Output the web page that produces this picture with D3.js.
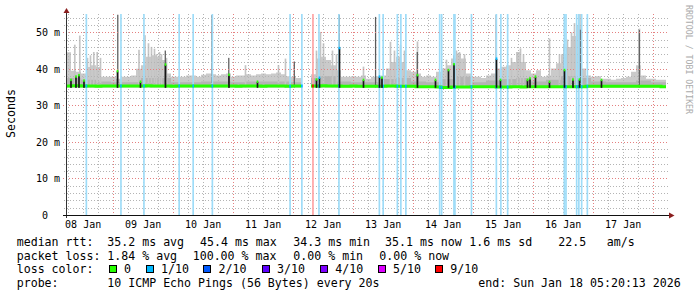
<!DOCTYPE html>
<html>
<head>
<meta charset="utf-8">
<script src="https://cdn.jsdelivr.net/npm/d3@7"></script>
<style>
body { margin: 0; background: #fff; }
svg { display: block; }
text { font-family: "DejaVu Sans Mono", monospace; }
</style>
</head>
<body>
<div id="chart"></div>
<script>
// 2 hour bins from the graph start, ms
var smokeMax = [
  44.5, 39.5, 39.2, 38.7, 40.5, 41.0, 40.5, 37.8, 37.8, 37.8, 37.3, 37.8,
  37.8, 38.2, 40.0, 41.0, 43.3, 43.7, 43.3, 42.4, 38.7, 37.8, 37.8, 37.8,
  38.2, 38.2, 37.8, 38.4, 38.7, 38.5, 38.2, 38.5, 38.7, 37.8, 38.2, 38.2,
  38.5, 38.2, 38.5, 38.7, 38.5, 38.7, 39.0, 38.5, 38.0, 37.8, 37.5, null,
  null, 38.5, 42.8, 43.3, 42.4, 41.0, 39.6, 37.8, 37.8, 38.0, 37.8, 38.2,
  37.3, 37.8, 38.0, 38.2, 40.1, 41.9, 43.3, 41.9, 39.6, 39.2, 38.7, 37.8,
  38.2, 37.8, 39.2, 40.1, 41.0, 42.8, 44.2, 42.8, 38.7, 37.8, 37.8, 37.5,
  38.2, 38.7, 40.1, 40.6, 41.0, 41.9, 44.6, 41.9, 39.6, 38.7, 39.6, 37.8,
  38.2, 40.1, 41.5, 44.0, 46.0, 49.0, 52.0, 40.1, 38.2, 37.8, 38.0, 37.3,
  37.3, 37.0, 37.3, 37.5, 37.8, 39.2, 41.0, 38.2, 37.3, 37.3, 37.0, 37.0
];
var median = [
  35.3, 35.4, 35.4, 35.3, 35.3, 35.3, 35.2, 35.3, 35.3, 35.3, 35.3, 35.3,
  35.3, 35.3, 35.3, 35.3, 35.4, 35.3, 35.3, 35.3, 35.3, 35.2, 35.3, 35.3,
  35.3, 35.3, 35.3, 35.3, 35.3, 35.3, 35.3, 35.3, 35.3, 35.3, 35.2, 35.3,
  35.3, 35.3, 35.3, 35.2, 35.3, 35.3, 35.3, 35.3, 35.2, 35.3, 35.3, null,
  null, 35.3, 35.3, 35.4, 35.3, 35.3, 35.3, 35.2, 35.2, 35.3, 35.2, 35.2,
  35.2, 35.2, 35.2, 35.2, 35.3, 35.3, 35.2, 35.2, 35.2, 35.2, 35.1, 35.1,
  35.1, 35.1, 35.0, 34.9, 34.9, 35.0, 35.0, 35.0, 35.0, 35.1, 35.1, 35.1,
  35.1, 35.1, 35.0, 35.0, 35.0, 35.1, 35.1, 35.0, 35.1, 35.1, 35.1, 35.1,
  35.1, 35.1, 35.1, 35.1, 35.1, 35.1, 35.1, 35.1, 35.2, 35.2, 35.2, 35.2,
  35.2, 35.2, 35.2, 35.2, 35.2, 35.2, 35.2, 35.2, 35.2, 35.2, 35.2, 35.1
];
// 6 hour bins, darker smoke
var smokeMid = [
  37.5, 37.0, 36.5, 36.3, 36.3, 37.5, 37.5, 36.3, 36.3, 36.5,
  36.5, 36.3, 36.5, 36.5, 36.5, 36.3, 37.5, 38.0, 36.5, 36.3,
  36.3, 37.2, 37.5, 36.5, 36.3, 37.2, 37.8, 36.3, 36.8, 37.2,
  37.5, 36.5, 37.0, 38.0, 37.5, 36.5, 36.3, 36.3, 36.8, 36.3
];
// thin light smoke spikes [time, top ms]
var lightSpikes = [
  ["01-08 08:31", 46.6], ["01-08 10:31", 49.1], ["01-08 13:36", 43.0], ["01-08 14:48", 43.7],
  ["01-08 16:07", 44.6], ["01-08 17:29", 44.6], ["01-08 18:48", 43.0], ["01-09 10:12", 45.2],
  ["01-09 12:36", 49.2], ["01-09 14:00", 47.0], ["01-09 15:12", 46.0], ["01-09 16:24", 45.5],
  ["01-09 17:12", 44.0], ["01-09 18:24", 44.6], ["01-09 19:12", 44.0], ["01-09 21:12", 43.0],
  ["01-11 04:48", 41.0], ["01-11 18:00", 41.0], ["01-11 20:48", 42.8], ["01-12 09:12", 45.0],
  ["01-12 10:48", 50.1], ["01-12 12:00", 47.0], ["01-12 15:36", 45.0], ["01-12 17:12", 44.0],
  ["01-13 04:00", 40.6], ["01-13 14:48", 47.4], ["01-13 16:24", 45.0], ["01-13 18:48", 46.5],
  ["01-13 20:24", 45.0], ["01-14 01:36", 47.5], ["01-14 13:12", 42.5], ["01-14 17:12", 45.0],
  ["01-14 18:24", 44.6], ["01-14 20:24", 44.0], ["01-15 15:12", 43.0], ["01-15 17:36", 44.6],
  ["01-15 18:48", 45.6], ["01-15 20:00", 44.0], ["01-16 06:24", 48.3], ["01-16 10:24", 44.0],
  ["01-16 13:36", 48.0], ["01-16 15:12", 50.0], ["01-16 16:24", 52.5], ["01-16 18:36", 55.0],
  ["01-17 18:24", 51.0]
];
// dark smoke lines [time, top ms]
var darkSpikes = [
  ["01-09 01:48", 54.8], ["01-09 20:48", 45.0], ["01-10 15:29", 54.7], ["01-10 22:12", 43.0],
  ["01-12 00:24", 42.0], ["01-12 18:24", 54.8], ["01-13 08:55", 54.2], ["01-14 01:36", 44.6],
  ["01-14 16:12", 43.7], ["01-15 09:12", 54.8], ["01-16 12:24", 46.5], ["01-16 18:48", 50.7],
  ["01-17 18:24", 50.6]
];
// median jumps [time, median ms, loss level]
var medianJumps = [
  ["01-08 07:00", 36.9, 0], ["01-08 09:00", 37.8, 0], ["01-08 10:12", 38.2, 0], ["01-08 12:12", 36.7, 0],
  ["01-09 01:36", 39.3, 0], ["01-09 10:48", 36.4, 0], ["01-09 20:48", 41.1, 0], ["01-10 22:12", 38.3, 0],
  ["01-11 09:36", 36.4, 0], ["01-12 09:12", 37.0, 0], ["01-12 10:24", 37.5, 1], ["01-12 18:24", 45.6, 1],
  ["01-13 04:00", 36.9, 0], ["01-13 10:24", 37.8, 1], ["01-13 11:24", 37.5, 0], ["01-14 01:36", 38.2, 0],
  ["01-14 08:48", 36.9, 0], ["01-14 14:00", 39.6, 0], ["01-14 16:12", 41.2, 0], ["01-15 09:12", 42.7, 1],
  ["01-15 10:48", 36.9, 0], ["01-15 21:36", 36.9, 0], ["01-15 22:36", 37.3, 0], ["01-16 00:48", 37.8, 0],
  ["01-16 06:24", 36.4, 0], ["01-16 12:24", 39.6, 0], ["01-16 15:48", 37.0, 0], ["01-16 18:24", 37.0, 0],
  ["01-17 03:12", 36.9, 0]
];
// loss events [time, lost pings out of 10]
var lossEvents = [
  ["01-08 13:29", 1], ["01-09 03:19", 1], ["01-09 12:31", 1], ["01-10 02:36", 1],
  ["01-10 08:12", 1], ["01-10 15:53", 1], ["01-11 22:58", 1], ["01-12 03:41", 1],
  ["01-12 08:07", 9], ["01-12 10:31", 1], ["01-12 18:31", 1], ["01-13 10:41", 1],
  ["01-13 12:12", 1], ["01-13 17:53", 1], ["01-13 19:17", 1], ["01-13 21:17", 1],
  ["01-14 10:48", 1], ["01-14 11:36", 1], ["01-14 16:31", 1], ["01-14 16:55", 1],
  ["01-14 23:31", 1], ["01-15 09:29", 1], ["01-15 11:17", 1], ["01-15 14:00", 1],
  ["01-16 12:40", 1], ["01-16 13:20", 1], ["01-16 17:36", 1], ["01-16 18:29", 1],
  ["01-16 19:36", 1], ["01-16 21:53", 1]
];

var yTicks = [0, 10, 20, 30, 40, 50];
var yTickLabels = ["0\u00a0\u00a0", "10 m", "20 m", "30 m", "40 m", "50 m"];
var xTickLabels = ["08 Jan", "09 Jan", "10 Jan", "11 Jan", "12 Jan", "13 Jan", "14 Jan", "15 Jan", "16 Jan", "17 Jan"];

var legendRtt = ["median rtt:", "35.2 ms avg", "45.4 ms max", "34.3 ms min", "35.1 ms now", "1.6 ms sd", "22.5", "am/s"];
var legendLoss = ["packet loss:", "1.84 % avg", "100.00 % max", "0.00 % min", "0.00 % now"];
var lossLevels = [0, 1, 2, 3, 4, 5, 9];
var lossLabels = ["0", "1/10", "2/10", "3/10", "4/10", "5/10", "9/10"];
var lossColors = ["#26ff00", "#00b8ff", "#0059ff", "#5e00ff", "#7e00ff", "#dd00ff", "#ff0000"];
var legendProbe = ["probe:", "10 ICMP Echo Pings (56 Bytes) every 20s", "end: Sun Jan 18 05:20:13 2026"];

var width = 697, height = 297;
var start = new Date(Date.UTC(2026, 0, 8, 5, 20, 13)),
    end = new Date(Date.UTC(2026, 0, 18, 5, 20, 13));
var parse = d3.utcParse("%m-%d %H:%M");
function when(s) { var d = parse(s); d.setUTCFullYear(2026); return d; }

var lossColor = {}, stripeColor = {1: "#9edcf8", 9: "#ffa3a3"};
lossLevels.forEach(function(l, i) { lossColor[l] = lossColors[i]; });

var x = d3.scaleUtc().domain([start, end]).range([66, 666]);
var y = d3.scaleLinear().domain([0, 55]).range([215, 14]);

var svg = d3.select("#chart").append("svg")
    .attr("width", width).attr("height", height);
svg.append("rect").attr("width", width).attr("height", height).attr("fill", "#fff");

svg.append("clipPath").attr("id", "plot")
  .append("rect").attr("x", 66).attr("y", 10).attr("width", 600).attr("height", 206);

function steps(values, hours) {
  var pts = [];
  values.forEach(function(v, i) {
    var t0 = d3.utcHour.offset(start, hours * i), t1 = d3.utcHour.offset(start, hours * (i + 1));
    pts.push({t: t0, v: v}, {t: t1, v: v});
  });
  return pts;
}

var base = 34.9;
var smokeArea = d3.area()
    .defined(function(d) { return d.v != null; })
    .x(function(d) { return x(d.t); })
    .y0(y(base))
    .y1(function(d) { return y(d.v); });

var plot = svg.append("g").attr("clip-path", "url(#plot)");

var maxPath = smokeArea(steps(smokeMax, 2));
svg.append("clipPath").attr("id", "smoke").append("path").attr("d", maxPath);
plot.append("path").attr("d", maxPath).attr("fill", "#cacaca");

plot.append("g").attr("clip-path", "url(#smoke)")
  .append("path").attr("d", smokeArea(steps(smokeMid, 6))).attr("fill", "#b4b4b4");

var px = 20; // minutes per pixel
plot.append("g").selectAll("rect")
  .data(lightSpikes).enter().append("rect")
    .attr("x", function(d) { return x(when(d[0])); })
    .attr("width", function(d) { var t = when(d[0]); return x(d3.utcMinute.offset(t, 2 * px)) - x(t); })
    .attr("y", function(d) { return y(d[1]); })
    .attr("height", function(d) { return y(base) - y(d[1]); })
    .attr("fill", "#c4c4c4");

plot.append("g").selectAll("rect")
  .data(darkSpikes).enter().append("rect")
    .attr("x", function(d) { return x(when(d[0])); })
    .attr("width", function(d) { var t = when(d[0]); return x(d3.utcMinute.offset(t, 1.5 * px)) - x(t); })
    .attr("y", function(d) { return y(d[1]); })
    .attr("height", function(d) { return y(base) - y(d[1]); })
    .attr("fill", "#5a5a5a");

// grid
var grid = svg.append("g").attr("shape-rendering", "crispEdges");
var minorY = d3.range(2, 55, 2).filter(function(v) { return v % 10 != 0; });
grid.selectAll("line.hmin").data(minorY).enter().append("line")
    .attr("x1", 64).attr("x2", 669)
    .attr("y1", function(d) { return Math.round(y(d)) + 0.5; })
    .attr("y2", function(d) { return Math.round(y(d)) + 0.5; })
    .style("stroke", "#b4b4b4").style("stroke-width", 1).style("stroke-dasharray", "1,2");
var minorX = d3.utcHour.every(6).range(start, end).filter(function(t) { return t.getUTCHours() != 0; });
grid.selectAll("line.vmin").data(minorX).enter().append("line")
    .attr("x1", function(d) { return Math.round(x(d)) + 0.5; })
    .attr("x2", function(d) { return Math.round(x(d)) + 0.5; })
    .attr("y1", 14).attr("y2", 217)
    .style("stroke", "#b4b4b4").style("stroke-width", 1).style("stroke-dasharray", "1,2");
grid.selectAll("line.hmaj").data(yTicks.slice(1)).enter().append("line")
    .attr("x1", 63).attr("x2", 669)
    .attr("y1", function(d) { return Math.round(y(d)) + 0.5; })
    .attr("y2", function(d) { return Math.round(y(d)) + 0.5; })
    .style("stroke", "#e48080").style("stroke-width", 1).style("stroke-dasharray", "1,2");
grid.selectAll("line.vmaj").data(d3.utcDay.range(start, end)).enter().append("line")
    .attr("x1", function(d) { return Math.round(x(d)) + 0.5; })
    .attr("x2", function(d) { return Math.round(x(d)) + 0.5; })
    .attr("y1", 14).attr("y2", 218)
    .style("stroke", "#e48080").style("stroke-width", 1).style("stroke-dasharray", "1,2");

// loss stripes
var data = svg.append("g").attr("clip-path", "url(#plot)");
data.append("g").selectAll("rect")
  .data(lossEvents).enter().append("rect")
    .attr("x", function(d) { return x(d3.utcMinute.offset(when(d[0]), -px)); })
    .attr("width", function(d) { var t = when(d[0]); return x(d3.utcMinute.offset(t, px)) - x(d3.utcMinute.offset(t, -px)); })
    .attr("y", 14).attr("height", 201)
    .attr("fill", function(d) { return stripeColor[d[1]]; });

// median
data.append("path")
    .attr("d", d3.line()
      .defined(function(d) { return d.v != null; })
      .x(function(d) { return x(d.t); })
      .y(function(d) { return y(d.v); })(steps(median, 2)))
    .attr("fill", "none").attr("stroke", lossColor[0]).attr("stroke-width", 3);

function binMedian(t) {
  var i = Math.floor((t - start) / 7200000);
  return median[i] == null ? 35.3 : median[i];
}
data.append("g").selectAll("rect")
  .data(lossEvents).enter().append("rect")
    .attr("x", function(d) { return x(d3.utcMinute.offset(when(d[0]), -px)); })
    .attr("width", function(d) { var t = when(d[0]); return x(d3.utcMinute.offset(t, px)) - x(d3.utcMinute.offset(t, -px)); })
    .attr("y", function(d) { return y(binMedian(when(d[0]))) - 1.5; })
    .attr("height", 3)
    .attr("fill", function(d) { return lossColor[d[1]]; });

var jumps = data.append("g").selectAll("g")
  .data(medianJumps).enter().append("g");
jumps.append("rect")
    .attr("x", function(d) { return x(when(d[0])); })
    .attr("width", function(d) { var t = when(d[0]); return x(d3.utcMinute.offset(t, 2 * px)) - x(t); })
    .attr("y", function(d) { return y(d[1]); })
    .attr("height", function(d) { return y(34.8) - y(d[1]); })
    .attr("fill", "#161616");
jumps.append("rect")
    .attr("x", function(d) { return x(when(d[0])); })
    .attr("width", function(d) { var t = when(d[0]); return x(d3.utcMinute.offset(t, 2 * px)) - x(t); })
    .attr("y", function(d) { return y(d[1]) - 1.5; })
    .attr("height", 2.5)
    .attr("fill", function(d) { return lossColor[d[2]]; });

// axes
svg.append("line").attr("x1", 66.5).attr("x2", 66.5).attr("y1", 11).attr("y2", 218)
    .attr("stroke", "#333");
svg.append("line").attr("x1", 63).attr("x2", 670).attr("y1", 215.5).attr("y2", 215.5)
    .attr("stroke", "#111");
svg.append("path").attr("d", "M63.5,13L66.5,8L69.5,13Z").attr("fill", "#8a1e1e");
svg.append("path").attr("d", "M669,212.5L674.5,215.5L669,218.5Z").attr("fill", "#8a1e1e");

var yAxis = svg.append("g")
    .attr("transform", "translate(66,0)")
    .call(d3.axisLeft(y).tickValues(yTicks).tickSize(0).tickPadding(6)
      .tickFormat(function(d, i) { return yTickLabels[i]; }));
yAxis.select(".domain").remove();
yAxis.selectAll("text").attr("font-family", "DejaVu Sans Mono").attr("font-size", 10).attr("fill", "#000");

var noons = xTickLabels.map(function(d, i) { return d3.utcHour.offset(d3.utcDay.floor(start), 24 * i + 12); });
var xAxis = svg.append("g")
    .attr("transform", "translate(0,215)")
    .call(d3.axisBottom(x).tickValues(noons).tickSize(0).tickPadding(6.3)
      .tickFormat(function(d, i) { return xTickLabels[i]; }));
xAxis.select(".domain").remove();
xAxis.selectAll("text").attr("font-family", "DejaVu Sans Mono").attr("font-size", 10).attr("fill", "#000");

svg.append("text")
    .attr("transform", "translate(15,113.5) rotate(-90)")
    .attr("text-anchor", "middle")
    .attr("font-family", "DejaVu Sans").attr("font-size", 11.6)
    .text("Seconds");

svg.append("text")
    .attr("transform", "translate(685.5,5) rotate(90)")
    .attr("font-family", "DejaVu Sans Mono").attr("font-size", 8.6)
    .attr("fill", "#ababab")
    .attr("textLength", 109).attr("lengthAdjust", "spacingAndGlyphs")
    .text("RRDTOOL / TOBI OETIKER");

// legend
var fs = 11.6;
function legendLine(items, xs, yb) {
  svg.append("g").selectAll("text").data(items).enter().append("text")
      .attr("x", function(d, i) { return xs[i]; })
      .attr("y", yb)
      .attr("font-size", fs)
      .text(function(d) { return d; });
}
legendLine(legendRtt, [16.7, 107.3, 200, 293.3, 385, 469.3, 558.3, 606.7], 245.7);
legendLine(legendLoss, [16.7, 107.3, 192.7, 293.3, 379.3], 259.5);
legendLine(["loss color:"], [16.7], 273.3);
legendLine(legendProbe, [16.7, 107.3, 478.3], 287);

var boxX = [108.7, 145.7, 203.3, 261.7, 320, 377.7, 435];
var sw = svg.append("g").selectAll("g").data(lossLabels).enter().append("g");
sw.append("rect")
    .attr("x", function(d, i) { return Math.round(boxX[i]) + 0.5; })
    .attr("y", 265.5).attr("width", 7).attr("height", 7)
    .attr("fill", function(d, i) { return lossColors[i]; })
    .attr("stroke", "#000");
sw.append("text")
    .attr("x", function(d, i) { return boxX[i] + 15.3; })
    .attr("y", 273.3).attr("font-size", fs)
    .text(function(d) { return d; });
</script>
</body>
</html>
